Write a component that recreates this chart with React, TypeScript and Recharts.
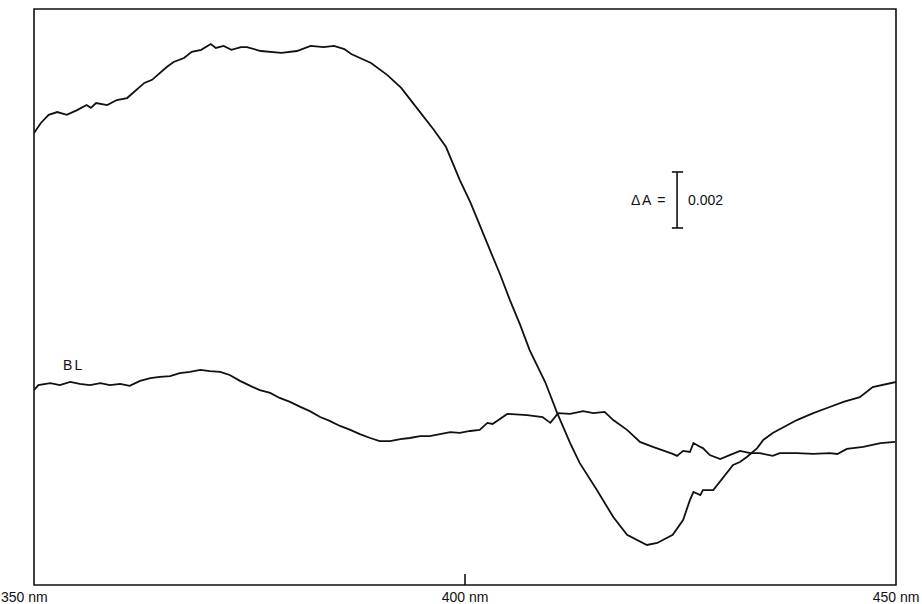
import {
  Label,
  Line,
  LineChart,
  ReferenceArea,
  ReferenceDot,
  ReferenceLine,
  XAxis,
  YAxis,
} from "recharts";

// wavelength (nm) and absorbance (x 1000) of the sample trace
const sampleNm = [
  350.0, 350.8, 351.7, 352.7, 353.8, 355.0, 356.1, 356.6, 357.2, 358.5, 359.6, 360.8,
  362.8, 363.7, 365.4, 366.2, 367.4, 368.3, 369.4, 370.5, 371.1, 372.0, 372.9, 374.0,
  374.7, 376.3, 378.7, 380.5, 382.1, 383.6, 384.8, 386.0, 386.8, 389.1, 391.0, 392.6,
  394.4, 396.4, 397.8, 399.4, 400.6, 401.7, 402.9, 404.1, 405.2, 406.4, 407.5, 409.3,
  410.7, 412.2, 413.3, 415.3, 417.2, 418.8, 421.1, 422.3, 424.1, 425.3, 426.1, 426.5,
  427.3, 427.6, 428.8, 431.1, 431.9, 432.7, 433.9, 434.6, 435.7, 438.5, 440.4, 442.0,
  443.9, 445.8, 447.3, 450.0,
];
const sampleA = [
  16.14, 16.5, 16.79, 16.89, 16.79, 16.96, 17.14, 17.04, 17.21, 17.14, 17.32, 17.39,
  17.93, 18.04, 18.5, 18.68, 18.82, 19.04, 19.11, 19.32, 19.18, 19.25, 19.11, 19.21,
  19.21, 19.07, 19.0, 19.07, 19.25, 19.21, 19.25, 19.14, 18.96, 18.64, 18.21, 17.75,
  17.04, 16.25, 15.64, 14.46, 13.68, 12.86, 11.96, 11.07, 10.18, 9.29, 8.39, 7.25,
  6.14, 5.07, 4.36, 3.39, 2.43, 1.79, 1.43, 1.5, 1.79, 2.32, 3.04, 3.32,
  3.21, 3.39, 3.39, 4.29, 4.39, 4.57, 4.89, 5.18, 5.43, 5.89, 6.14, 6.32,
  6.54, 6.71, 7.07, 7.25,
];

// baseline (BL) trace
const baselineNm = [
  350.0, 350.5, 351.9, 353.0, 354.2, 355.3, 356.5, 357.7, 358.8, 360.0, 361.1, 362.3,
  363.5, 364.6, 365.8, 366.9, 368.1, 369.3, 370.4, 371.6, 372.7, 373.9, 375.1, 376.2,
  377.4, 378.5, 379.7, 380.9, 382.0, 383.2, 384.3, 385.5, 386.7, 387.8, 389.0, 390.1,
  391.3, 392.5, 393.6, 394.8, 395.9, 397.1, 398.3, 399.4, 400.6, 401.7, 402.6, 403.2,
  404.9, 407.2, 409.0, 409.9, 410.8, 412.2, 413.7, 414.9, 416.2, 417.2, 418.8, 420.3,
  421.8, 424.1, 424.6, 425.3, 426.1, 426.5, 427.3, 427.6, 428.4, 429.6, 430.7, 431.9,
  433.1, 434.2, 435.7, 436.5, 438.5, 440.4, 442.3, 443.2, 444.3, 446.2, 448.2, 449.9,
];
const baselineA = [
  6.96, 7.14, 7.21, 7.14, 7.25, 7.18, 7.14, 7.21, 7.14, 7.18, 7.11, 7.29,
  7.39, 7.43, 7.46, 7.57, 7.61, 7.68, 7.64, 7.61, 7.5, 7.29, 7.11, 6.96,
  6.86, 6.68, 6.54, 6.36, 6.21, 6.0, 5.86, 5.68, 5.54, 5.39, 5.25, 5.14,
  5.14, 5.21, 5.25, 5.32, 5.32, 5.39, 5.46, 5.43, 5.5, 5.54, 5.79, 5.75,
  6.11, 6.07, 6.0, 5.79, 6.14, 6.11, 6.21, 6.14, 6.18, 5.89, 5.54, 5.11,
  4.93, 4.68, 4.61, 4.79, 4.75, 5.07, 4.93, 4.89, 4.64, 4.5, 4.64, 4.79,
  4.71, 4.71, 4.61, 4.71, 4.71, 4.68, 4.71, 4.68, 4.86, 4.93, 5.07, 5.11,
];

const xTicks = [350, 400, 450];
const xTickLabels = ["350 nm", "400 nm", "450 nm"];

// scale bar: ΔA = 0.002 (2 units)
const barNm = 424.6;
const barLow = 12.75;
const barHigh = 14.75;
const yMax = 20.57;

const sampleData = sampleNm.map((nm, i) => ({ nm, a: sampleA[i] }));
const baselineData = baselineNm.map((nm, i) => ({ nm, a: baselineA[i] }));

const FONT = "'Liberation Sans', Arial, sans-serif";

function AxisTick(props: any) {
  const { x, y, payload, index } = props;
  const first = index === 0;
  return (
    <text
      x={first ? x - 33 : x}
      y={y}
      dy={9}
      textAnchor={first ? "start" : "middle"}
      fontFamily={FONT}
      fontSize={14}
      fill="#111"
    >
      {xTickLabels[xTicks.indexOf(payload.value)]}
    </text>
  );
}

export default function App() {
  return (
    <div style={{ position: "absolute", left: 0, top: 0, width: 922, height: 604, background: "#fff" }}>
      <LineChart
        width={922}
        height={604}
        margin={{ top: 9, right: 26, bottom: 0, left: 34 }}
      >
        <XAxis
          type="number"
          dataKey="nm"
          domain={[350, 450]}
          ticks={xTicks}
          axisLine={false}
          tickLine={false}
          tick={<AxisTick />}
          height={19}
          interval={0}
          allowDataOverflow
        />
        <YAxis hide type="number" domain={[0, yMax]} allowDataOverflow />
        <ReferenceArea
          x1={350}
          x2={450}
          y1={0}
          y2={yMax}
          fill="none"
          stroke="#111"
          strokeWidth={1.6}
        />
        <ReferenceLine
          segment={[{ x: 400, y: 0 }, { x: 400, y: 0.39 }]}
          stroke="#111"
          strokeWidth={1.6}
        />
        <ReferenceLine
          segment={[{ x: barNm, y: barLow }, { x: barNm, y: barHigh }]}
          stroke="#111"
          strokeWidth={1.6}
        >
          <Label value="ΔA =" position="left" offset={10} fontFamily={FONT} fontSize={14} fill="#111" letterSpacing={1.5} />
          <Label value="0.002" position="right" offset={11} fontFamily={FONT} fontSize={14} fill="#111" />
        </ReferenceLine>
        <ReferenceLine
          segment={[{ x: barNm - 0.6, y: barHigh }, { x: barNm + 0.7, y: barHigh }]}
          stroke="#111"
          strokeWidth={1.6}
        />
        <ReferenceLine
          segment={[{ x: barNm - 0.6, y: barLow }, { x: barNm + 0.7, y: barLow }]}
          stroke="#111"
          strokeWidth={1.6}
        />
        <ReferenceDot x={354.6} y={7.86} r={0} fill="none" stroke="none">
          <Label value="BL" position="center" fontFamily={FONT} fontSize={14} fill="#111" letterSpacing={2} />
        </ReferenceDot>
        <Line
          data={sampleData}
          dataKey="a"
          type="linear"
          stroke="#111"
          strokeWidth={1.8}
          dot={false}
          isAnimationActive={false}
        />
        <Line
          data={baselineData}
          dataKey="a"
          type="linear"
          stroke="#111"
          strokeWidth={1.8}
          dot={false}
          isAnimationActive={false}
        />
      </LineChart>
    </div>
  );
}
